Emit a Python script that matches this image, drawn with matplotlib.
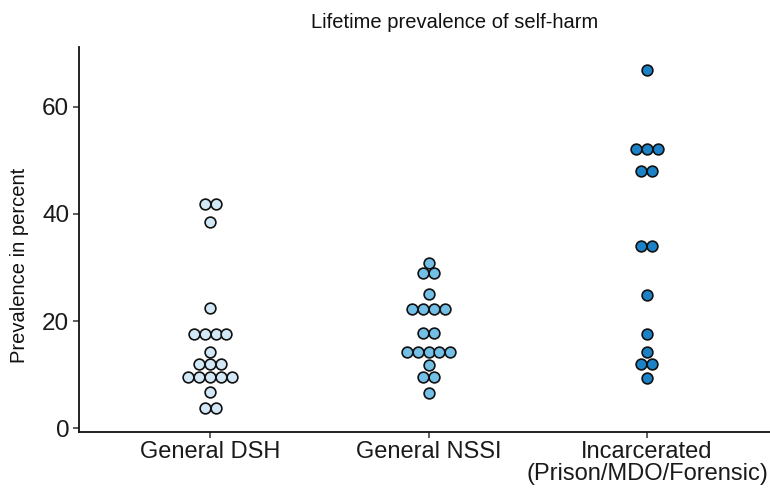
import matplotlib
matplotlib.use("Agg")
import matplotlib.pyplot as plt
from collections import Counter

plt.rcParams['font.family'] = ['Liberation Sans', 'DejaVu Sans']

categories = ["General DSH", "General NSSI", "Incarcerated\n(Prison/MDO/Forensic)"]
general_dsh = [41.9, 41.9, 38.4, 22.4, 17.6, 17.6, 17.6, 17.6, 14.3,
               12.0, 12.0, 12.0, 9.5, 9.5, 9.5, 9.5, 9.5, 6.7, 3.8, 3.8]
general_nssi = [30.8, 29.0, 29.0, 25.0, 22.2, 22.2, 22.2, 22.2, 17.7, 17.7,
                14.3, 14.3, 14.3, 14.3, 14.3, 11.8, 9.5, 9.5, 6.5]
incarcerated = [66.9, 52.1, 52.1, 52.1, 47.9, 47.9, 34.0, 34.0, 24.9,
                17.6, 14.3, 12.0, 12.0, 9.4]
yticks = [0, 20, 40, 60]
title = "Lifetime prevalence of self-harm"
ylabel = "Prevalence in percent"

colors = ["#d3e8f6", "#74bfe6", "#1c82c8"]
groups = [general_dsh, general_nssi, incarcerated]

W, H = 770, 490
fig = plt.figure(figsize=(W / 100, H / 100), dpi=100)
left, right, top, bottom = 79, 778, 47, 431.7
ax = fig.add_axes([left / W, 1 - bottom / H, (right - left) / W, (bottom - top) / H])

dot_w = 0.05
for i, (vals, col) in enumerate(zip(groups, colors)):
    pos = i + 1
    xs, ys = [], []
    for v, n in Counter(vals).items():
        for k in range(n):
            xs.append(pos + (k - (n - 1) / 2) * dot_w)
            ys.append(v)
    ax.scatter(xs, ys, s=60, facecolor=col, edgecolor="#111111", linewidth=1.2, zorder=3)

ax.set_xlim(0.4, 3.6)
ax.set_ylim(-0.63, 71.1)
ax.set_xticks([1, 2, 3])
ax.set_xticklabels(categories, fontsize=17, color="#1a1a1a", linespacing=0.95)
ax.set_yticks(yticks)
ax.set_yticklabels([str(t) for t in yticks], fontsize=17.5, color="#1a1a1a")
for s in ["top", "right"]:
    ax.spines[s].set_visible(False)
for s in ["left", "bottom"]:
    ax.spines[s].set_linewidth(1.3)
    ax.spines[s].set_color("#111111")
ax.tick_params(axis="both", length=4, width=1.1, color="#333333", pad=3)

fig.text(455 / W, 1 - 22 / H, title, ha="center", va="center", fontsize=14.5, color="#111111")
fig.text(20 / W, 1 - 265 / H, ylabel, ha="center", va="center", rotation=90,
         fontsize=14.5, color="#111111")

fig.savefig("out.png", dpi=100)
